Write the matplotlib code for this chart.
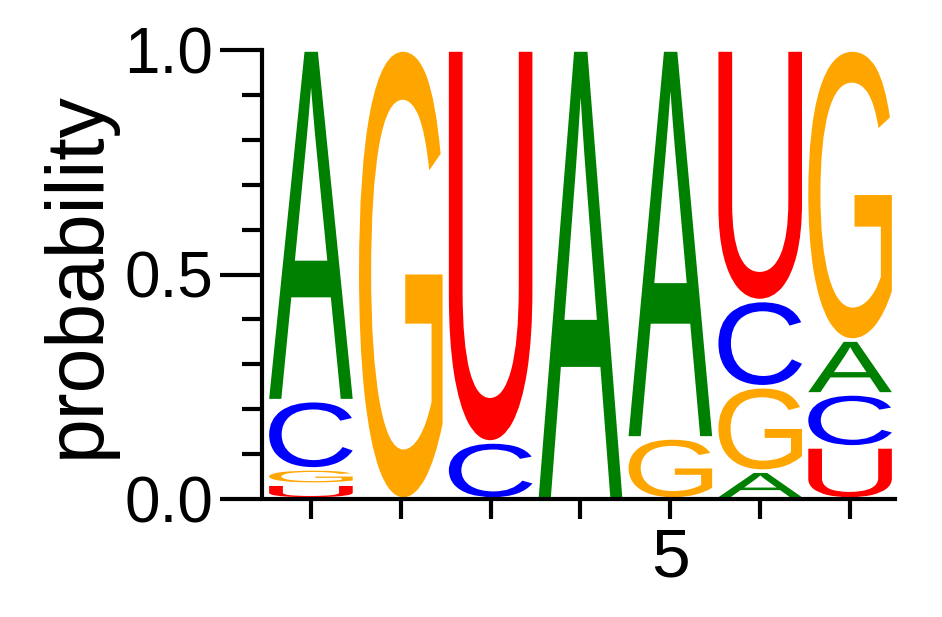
import numpy as np
import matplotlib
matplotlib.use("Agg")
import matplotlib.pyplot as plt
from matplotlib.textpath import TextPath
from matplotlib.patches import PathPatch
from matplotlib.font_manager import FontProperties
from matplotlib.transforms import Affine2D
from matplotlib.ticker import MultipleLocator

# probabilities per position (1..7), RNA letters
positions = [1, 2, 3, 4, 5, 6, 7]
prob_A = [0.781, 0.0, 0.0, 1.0, 0.864, 0.062, 0.120]
prob_C = [0.152, 0.0, 0.127, 0.0, 0.0, 0.192, 0.118]
prob_G = [0.034, 1.0, 0.0, 0.0, 0.136, 0.188, 0.646]
prob_U = [0.033, 0.0, 0.873, 0.0, 0.0, 0.558, 0.116]

letters = ["A", "C", "G", "U"]
colors = {"A": "#008000", "C": "#0000ff", "G": "#ffa500", "U": "#ff0000"}

font = FontProperties(family="Liberation Sans")
plt.rcParams["font.family"] = ["Liberation Sans", "DejaVu Sans"]


def draw_letter(ax, ch, x, y, w, h, color):
    tp = TextPath((0, 0), ch, size=1, prop=font)
    ext = tp.get_extents()
    sx = w / ext.width
    sy = h / ext.height
    tr = Affine2D().translate(-ext.x0, -ext.y0).scale(sx, sy).translate(x - w / 2, y)
    path = tr.transform_path(tp)
    ax.add_patch(PathPatch(path, facecolor=color, edgecolor="none"))


fig = plt.figure(figsize=(9.42, 6.17), dpi=100)
ax = fig.add_axes([266 / 942, 1 - 499 / 617, 629 / 942, 449 / 617])

table = {"A": prob_A, "C": prob_C, "G": prob_G, "U": prob_U}
pad = 0.004
for i, pos in enumerate(positions):
    vals = sorted([(table[l][i], l) for l in letters])
    bottom = 0.0
    for v, l in vals:
        if v > 0.01:
            draw_letter(ax, l, pos, bottom + pad, 0.93, v - 2 * pad, colors[l])
        bottom += v

ax.set_xlim(0.5, 7.5)
ax.set_ylim(0, 1)

for s in ["top", "right"]:
    ax.spines[s].set_visible(False)
ax.spines["left"].set_position(("outward", 3))
ax.spines["left"].set_linewidth(3)
ax.spines["bottom"].set_linewidth(3)

ax.set_xticks(positions)
ax.set_xticklabels(["", "", "", "", "5", "", ""])
ax.set_yticks([0, 0.5, 1.0])
ax.set_yticklabels(["0.0", "0.5", "1.0"])
ax.yaxis.set_minor_locator(MultipleLocator(0.1))
ax.tick_params(axis="y", which="major", length=30, width=3, labelsize=46, pad=5)
ax.tick_params(axis="y", which="minor", length=14.5, width=3)
ax.tick_params(axis="x", which="major", length=14.5, width=3, labelsize=50, pad=5)

ax.set_ylabel("probability", fontsize=58, labelpad=6)

fig.savefig("out.png", dpi=100)
